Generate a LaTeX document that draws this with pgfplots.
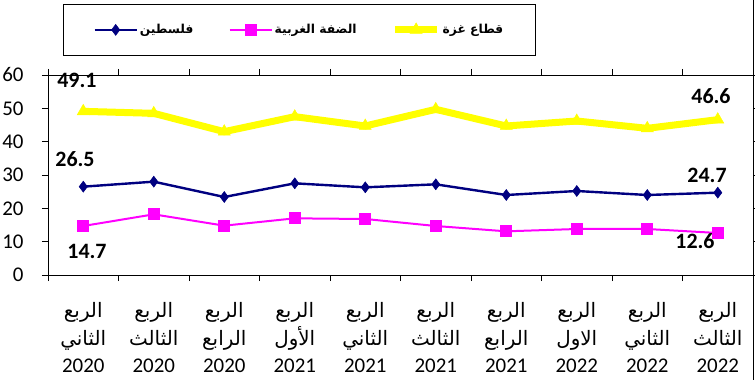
\documentclass[border=0pt]{standalone}
\usepackage{pgfplots}
\pgfplotsset{compat=1.18}
\usepackage{fontspec}
\setmainfont{Carlito}
\newfontfamily\arabicfont[Script=Arabic,Scale=0.95]{DejaVu Sans}
\TeXXeTstate=1
\definecolor{pnavy}{RGB}{0,0,128}
\definecolor{pmag}{RGB}{255,0,255}
\definecolor{pyel}{RGB}{255,255,0}
\newcommand{\ar}[1]{{\arabicfont\beginR #1\endR}}
\newcommand{\xl}[3]{\ar{#1}\\\ar{#2}\\#3}
\begin{document}
\begin{tikzpicture}
\useasboundingbox (0,0) rectangle (755bp,380bp);
\begin{axis}[
  at={(48bp,105bp)}, anchor=south west,
  scale only axis, width=705bp, height=200bp,
  xmin=0, xmax=10, ymin=0, ymax=60,
  clip=false,
  axis line style={line width=0.9bp},
  tick style={line width=0.9bp, black},
  tick align=outside,
  major tick length=6bp,
  xtick={0,...,10}, xticklabels={},
  ytick={0,10,...,60},
  extra x ticks={0.5,1.5,...,9.5},
  extra x tick labels={
    {\xl{الربع}{الثاني}{2020}},
    {\xl{الربع}{الثالث}{2020}},
    {\xl{الربع}{الرابع}{2020}},
    {\xl{الربع}{الأول}{2021}},
    {\xl{الربع}{الثاني}{2021}},
    {\xl{الربع}{الثالث}{2021}},
    {\xl{الربع}{الرابع}{2021}},
    {\xl{الربع}{الاول}{2022}},
    {\xl{الربع}{الثاني}{2022}},
    {\xl{الربع}{الثالث}{2022}}},
  extra x tick style={major tick length=0pt},
  xticklabel style={align=center, font=\fontsize{21}{27.5}\selectfont, yshift=-24bp},
  yticklabel style={font=\fontsize{21}{25}\selectfont, xshift=-15bp},
  /pgf/number format/assume math mode=true,
  legend columns=3,
  legend style={at={(axis description cs:0.0213,1.355)}, anchor=north west,
    draw=black, line width=0.9bp, inner xsep=30bp, inner ysep=18bp,
    font=\fontsize{13}{16}\selectfont,
    nodes={inner xsep=2bp},
    /tikz/column 2/.style={column sep=33bp},
    /tikz/column 4/.style={column sep=33bp}},
  legend image code/.code={\draw[mark repeat=2,mark phase=2] plot coordinates {(0bp,0bp) (21bp,0bp) (42bp,0bp)};},
]
\addplot[pnavy, line width=2.4bp, mark=diamond*, mark size=5.5bp, mark options={solid, fill=pnavy, line width=0.5bp}]
 coordinates {(0.5,26.5) (1.5,28.0) (2.5,23.4) (3.5,27.5) (4.5,26.3) (5.5,27.2) (6.5,24.0) (7.5,25.2) (8.5,24.0) (9.5,24.7)};
\addlegendentry{\ar{\bfseries فلسطين}}
\addplot[pmag, line width=2bp, mark=square*, mark size=5bp, mark options={solid, fill=pmag}]
 coordinates {(0.5,14.7) (1.5,18.2) (2.5,14.8) (3.5,17.0) (4.5,16.8) (5.5,14.7) (6.5,13.1) (7.5,13.8) (8.5,13.8) (9.5,12.6)};
\addlegendentry{\ar{\bfseries الضفة الغربية}}
\addplot[pyel, line width=7bp, mark=triangle*, mark size=7bp, mark options={solid, fill=pyel, line width=0.5bp}]
 coordinates {(0.5,49.1) (1.5,48.5) (2.5,43.0) (3.5,47.5) (4.5,44.7) (5.5,49.7) (6.5,44.7) (7.5,46.2) (8.5,44.0) (9.5,46.6)};
\addlegendentry{\ar{\bfseries قطاع غزة}}
\begin{scope}[font=\fontsize{22}{26}\selectfont\bfseries]
\node at (axis cs:0.411,58.5) {49.1};
\node at (axis cs:0.383,34.8) {26.5};
\node at (axis cs:0.553,7.2) {14.7};
\node at (axis cs:9.404,53.7) {46.6};
\node at (axis cs:9.348,30.0) {24.7};
\node at (axis cs:9.177,10.2) {12.6};
\end{scope}
\end{axis}
\draw[line width=0.9bp] (753bp,0) -- (753bp,380bp);
\end{tikzpicture}
\end{document}
